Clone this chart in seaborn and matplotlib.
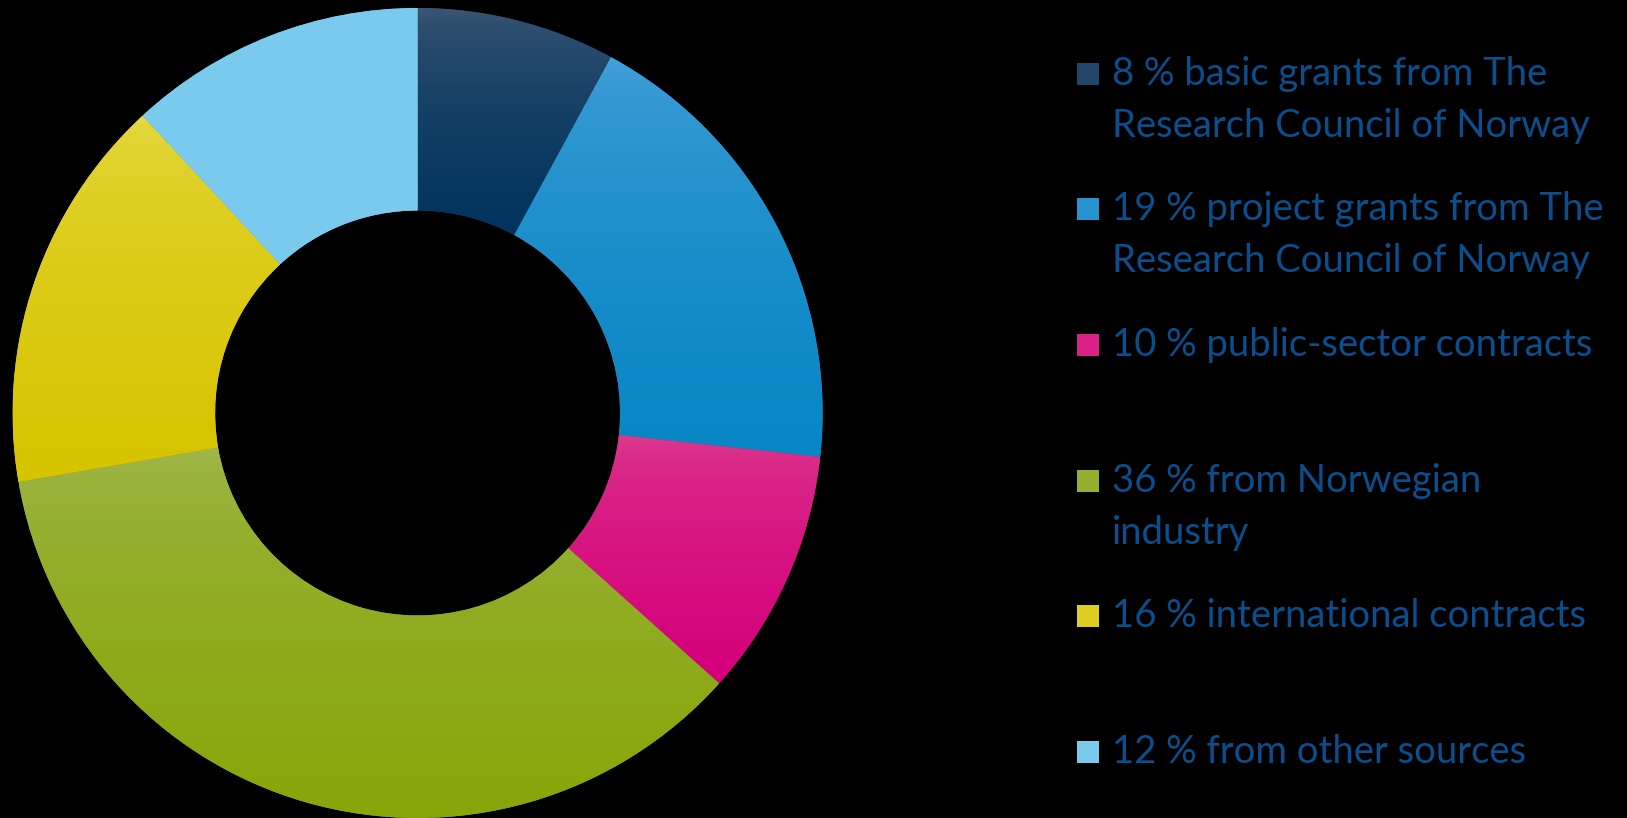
import numpy as np
import matplotlib
matplotlib.use("Agg")
import matplotlib.pyplot as plt
import seaborn as sns
from matplotlib.colors import LinearSegmentedColormap
from matplotlib.patches import Rectangle

# ---- data ----
labels = [
    "8 % basic grants from The\nResearch Council of Norway",
    "19 % project grants from The\nResearch Council of Norway",
    "10 % public-sector contracts",
    "36 % from Norwegian\nindustry",
    "16 % international contracts",
    "12 % from other sources",
]
values = [8, 19, 10, 36, 16, 12]
top_colors = ["#425a76", "#4aa2da", "#dd4090", "#a2b852", "#e6da46", "#7acaee"]
bottom_colors = ["#00335e", "#0786c4", "#d4007a", "#88a60a", "#d6c400", "#7acaee"]

sns.set_theme(style="white")
plt.rcParams["font.family"] = ["Lato", "DejaVu Sans"]

W, H = 1627, 818
fig = plt.figure(figsize=(W / 100, H / 100), dpi=100, facecolor="black")

cx, cy, R = 417.6, 413.0, 405.0
ax = fig.add_axes([(cx - R) / W, (H - cy - R) / H, 2 * R / W, 2 * R / H])
ax.set_facecolor("black")

mid_colors = [sns.blend_palette([t, b], 3)[1] for t, b in zip(top_colors, bottom_colors)]
wedges, _ = ax.pie(values, colors=mid_colors, startangle=90, counterclock=False,
                   radius=1, wedgeprops=dict(width=0.5, edgecolor="none"))

grad = np.sqrt(np.linspace(0, 1, 256)).reshape(-1, 1)
for w, t, b in zip(wedges, top_colors, bottom_colors):
    ext = w.get_path().get_extents(w.get_patch_transform())
    cmap = LinearSegmentedColormap.from_list("g", [t, b])
    im = ax.imshow(grad, cmap=cmap, aspect="auto", interpolation="bilinear",
                   extent=[ext.x0, ext.x1, ext.y0, ext.y1], origin="upper", zorder=3)
    im.set_clip_path(w)

ax.set_xlim(-1, 1)
ax.set_ylim(-1, 1)
ax.set_aspect("equal")
ax.axis("off")

# ---- legend (manual) ----
text_color = "#0a4e8e"
y0, dy = 73.5, 135.7
for i, (lab, t, b) in enumerate(zip(labels, top_colors, bottom_colors)):
    yc = y0 + i * dy
    sq = 22
    fig.patches.append(Rectangle((1077 / W, (H - yc - sq / 2) / H), sq / W, sq / H,
                                 transform=fig.transFigure,
                                 facecolor=sns.blend_palette([t, b], 3)[1],
                                 edgecolor="none"))
    for j, ln in enumerate(lab.split("\n")):
        fig.text(1112 / W, (H - (yc + j * 52)) / H, ln, color=text_color, fontsize=27.5,
                 va="center", ha="left")

fig.savefig("out.png", dpi=100, facecolor="black")
